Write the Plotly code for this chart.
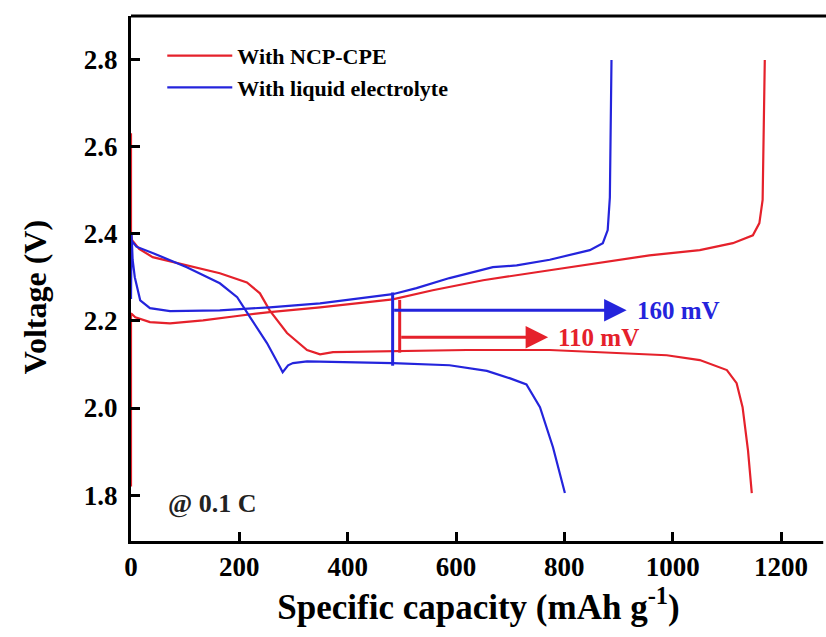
import plotly.graph_objects as go

# ---------------- data ----------------
# With NCP-CPE (red)
ncp_dis_x = [0, 0, 2, 15, 40, 103, 164, 214, 238, 256, 288, 325, 349, 373, 483, 620, 773, 865, 989, 1050, 1100, 1118, 1129, 1139, 1146]
ncp_dis_y = [2.63, 2.40, 2.385, 2.365, 2.346, 2.328, 2.309, 2.288, 2.263, 2.224, 2.172, 2.133, 2.123, 2.128, 2.130, 2.133, 2.133, 2.128, 2.121, 2.110, 2.087, 2.057, 2.002, 1.903, 1.805]
ncp_chg_x = [0, 0, 8, 35, 72, 133, 196, 256, 349, 483, 557, 650, 773, 957, 1050, 1111, 1148, 1160, 1166, 1168, 1170]
ncp_chg_y = [1.82, 2.217, 2.208, 2.197, 2.194, 2.201, 2.211, 2.220, 2.231, 2.249, 2.270, 2.293, 2.316, 2.350, 2.362, 2.378, 2.396, 2.424, 2.477, 2.60, 2.798]

# With liquid electrolyte (blue)
liq_dis_x = [0, 10, 41, 103, 164, 196, 220, 251, 275, 280, 290, 299, 325, 483, 588, 657, 700, 730, 755, 779, 801]
liq_dis_y = [2.385, 2.370, 2.355, 2.323, 2.286, 2.254, 2.208, 2.149, 2.094, 2.082, 2.098, 2.103, 2.107, 2.103, 2.098, 2.085, 2.068, 2.054, 2.002, 1.910, 1.805]
liq_chg_x = [0, 1, 3, 7, 17, 35, 72, 164, 256, 349, 483, 527, 588, 668, 712, 773, 847, 871, 880, 884, 887]
liq_chg_y = [2.25, 2.40, 2.34, 2.30, 2.247, 2.229, 2.222, 2.224, 2.231, 2.240, 2.261, 2.275, 2.298, 2.323, 2.327, 2.340, 2.362, 2.378, 2.408, 2.483, 2.798]

# overpotential markers
blue_bar_x = [483, 483]
blue_bar_y = [2.265, 2.097]
red_bar_x = [496, 496]
red_bar_y = [2.248, 2.127]
blue_arrow = dict(x0=483, x1=915, y=2.224, label="160 mV")
red_arrow = dict(x0=496, x1=770, y=2.162, label="110 mV")

x_ticks = [0, 200, 400, 600, 800, 1000, 1200]
y_ticks = [1.8, 2.0, 2.2, 2.4, 2.6, 2.8]

RED = "#e5212b"
BLUE = "#2424dc"
SERIF = "Liberation Serif"

fig = go.Figure()
fig.add_trace(go.Scatter(x=ncp_dis_x, y=ncp_dis_y, mode="lines", line=dict(color=RED, width=2.2),
                         name="With NCP-CPE", legendgroup="ncp"))
fig.add_trace(go.Scatter(x=ncp_chg_x, y=ncp_chg_y, mode="lines", line=dict(color=RED, width=2.2),
                         name="With NCP-CPE", legendgroup="ncp", showlegend=False))
fig.add_trace(go.Scatter(x=liq_dis_x, y=liq_dis_y, mode="lines", line=dict(color=BLUE, width=2.2),
                         name="With liquid electrolyte", legendgroup="liq"))
fig.add_trace(go.Scatter(x=liq_chg_x, y=liq_chg_y, mode="lines", line=dict(color=BLUE, width=2.2),
                         name="With liquid electrolyte", legendgroup="liq", showlegend=False))

fig.add_trace(go.Scatter(x=blue_bar_x, y=blue_bar_y, mode="lines", line=dict(color=BLUE, width=3),
                         showlegend=False, hoverinfo="skip"))
fig.add_trace(go.Scatter(x=red_bar_x, y=red_bar_y, mode="lines", line=dict(color=RED, width=3),
                         showlegend=False, hoverinfo="skip"))

for arr, col in [(blue_arrow, BLUE), (red_arrow, RED)]:
    fig.add_annotation(x=arr["x1"], y=arr["y"], ax=arr["x0"], ay=arr["y"],
                       xref="x", yref="y", axref="x", ayref="y",
                       showarrow=True, arrowhead=2, arrowsize=1.5, arrowwidth=3,
                       arrowcolor=col, text="", standoff=0, startstandoff=0)
    fig.add_annotation(x=arr["x1"], y=arr["y"], xref="x", yref="y", text=arr["label"],
                       showarrow=False, xanchor="left", xshift=8,
                       font=dict(family=SERIF, size=25, color=col, weight="bold"))

fig.add_annotation(x=0.05, y=1.782, xref="paper", yref="y", text="@ 0.1 C", showarrow=False,
                   xanchor="left", yanchor="middle",
                   font=dict(family=SERIF, size=26, color="#222", weight="bold"))

# y-axis title placed as rotated text
fig.add_annotation(x=-0.139, y=0.465, xref="paper", yref="paper", text="Voltage (V)",
                   showarrow=False, textangle=-90, xanchor="center", yanchor="middle",
                   font=dict(family=SERIF, size=32, color="black", weight="bold"))

# top frame line
fig.add_shape(type="line", xref="paper", yref="paper", x0=0, x1=1, y0=1, y1=1,
              line=dict(color="black", width=3))
# mask at the cut right edge
fig.add_shape(type="rect", xref="paper", yref="paper", x0=0.996, x1=1.01, y0=-0.01, y1=0.985,
              line=dict(width=0), fillcolor="white", layer="above")

fig.update_layout(
    width=826, height=637,
    margin=dict(l=131, r=0, t=16, b=96),
    paper_bgcolor="white", plot_bgcolor="white",
    font=dict(family=SERIF, color="black"),
    showlegend=True,
    legend=dict(x=0.045, y=0.964, xanchor="left", yanchor="top", bgcolor="rgba(0,0,0,0)",
                font=dict(family=SERIF, size=22, color="black", weight="bold"),
                itemwidth=65, tracegroupgap=0),
)
fig.update_xaxes(range=[0, 1283], tickvals=x_ticks, ticks="inside", ticklen=9, tickwidth=3,
                 tickcolor="black", showline=True, linewidth=3, linecolor="black", mirror=False,
                 showgrid=False, zeroline=False,
                 tickfont=dict(family=SERIF, size=27, color="black", weight="bold"),
                 title=dict(text="Specific capacity (mAh g<sup>-1</sup>)", standoff=10,
                            font=dict(family=SERIF, size=35, color="black", weight="bold")))
fig.update_yaxes(range=[1.695, 2.899], tickvals=y_ticks, tickformat=".1f", ticks="inside", ticklen=9,
                 tickwidth=3, tickcolor="black", showline=True, linewidth=3, linecolor="black",
                 mirror=False, showgrid=False, zeroline=False, ticklabelstandoff=5,
                 tickfont=dict(family=SERIF, size=27, color="black", weight="bold"))

fig.write_html("out.html")
